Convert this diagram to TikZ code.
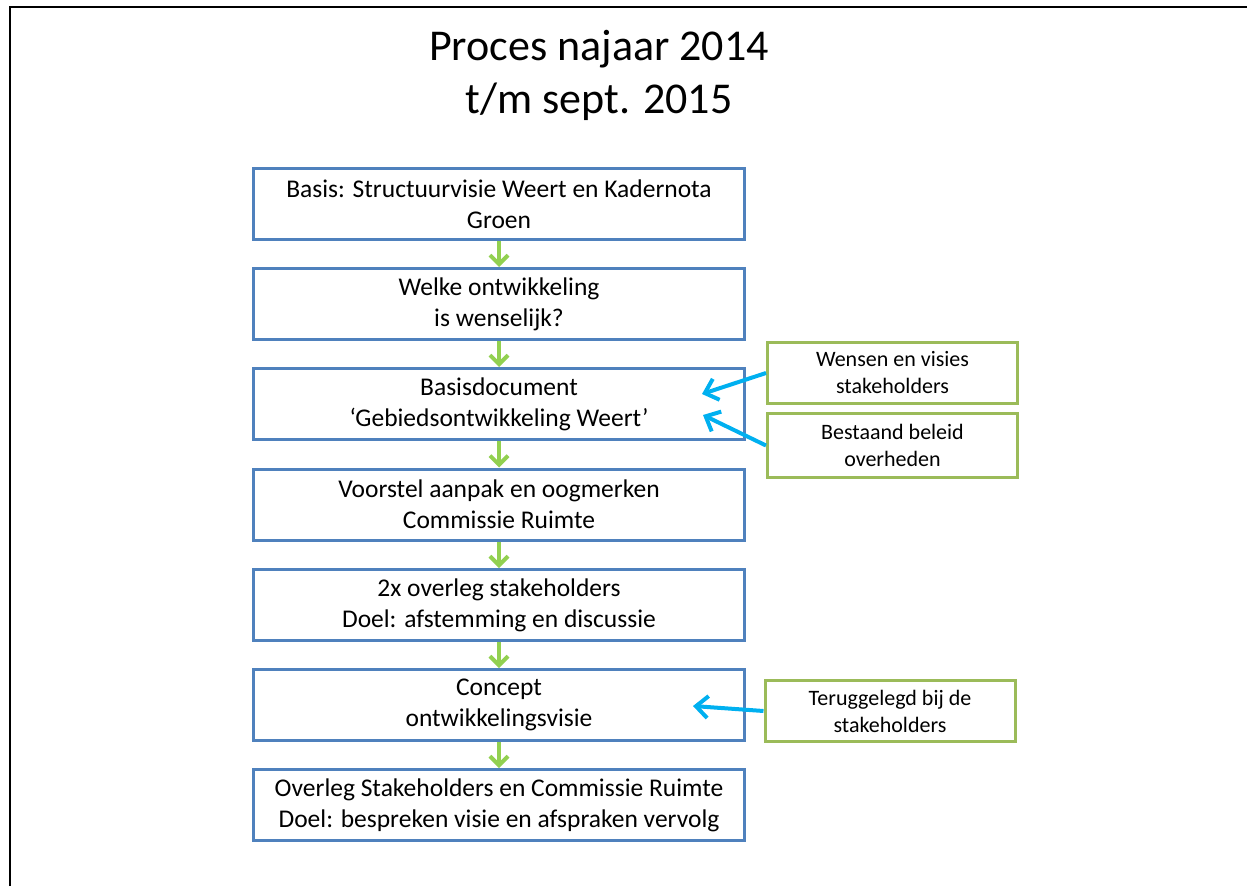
\documentclass[tikz,border=0pt]{standalone}
\usepackage{fontspec}
\setmainfont{Carlito}
\usetikzlibrary{arrows.meta}
\definecolor{boxblue}{RGB}{79,129,189}
\definecolor{boxgreen}{RGB}{155,187,89}
\definecolor{arrowgreen}{RGB}{146,208,80}
\definecolor{arrowblue}{RGB}{0,176,240}
\begin{document}
\begin{tikzpicture}[x=1pt,y=-1pt,
    stap/.style={draw=boxblue,line width=3pt,minimum width=491pt,minimum height=71pt,
      inner sep=0pt,align=center,font=\fontsize{25.5}{31}\selectfont},
    bron/.style={draw=boxgreen,line width=3pt,minimum width=250pt,minimum height=61pt,
      inner sep=0pt,align=center,font=\fontsize{22}{27}\selectfont},
    volgt/.style={draw=arrowgreen,line width=4pt,-{Straight Barb[length=9pt,width=18pt]}},
    invoer/.style={draw=arrowblue,line width=4pt,-{Straight Barb[length=12pt,width=22pt]}}]
      \useasboundingbox (0,0) rectangle (1247,886);
      \draw[line width=2.5pt] (10,886) -- (10,7) -- (1247,7);
      \node[align=center,inner sep=0pt,font=\fontsize{44}{53}\selectfont] (titel) at (599,75)
        {Proces najaar 2014\\t/m sept. 2015};
      \draw
        (499,204) node[stap] (1){Basis: Structuurvisie Weert en Kadernota\\Groen}
        (499,304) node[stap] (2){Welke ontwikkeling\\is wenselijk?}
        (499,404) node[stap] (3){Basisdocument\\‘Gebiedsontwikkeling Weert’}
        (499,504.5) node[stap] (4){Voorstel aanpak en oogmerken\\Commissie Ruimte}
        (499,605) node[stap] (5){2x overleg stakeholders\\Doel: afstemming en discussie}
        (499,705) node[stap] (6){Concept\\ontwikkelingsvisie}
        (499,805) node[stap] (7){Overleg Stakeholders en Commissie Ruimte\\Doel: bespreken visie en afspraken vervolg};
      \draw
        (892.5,373) node[bron] (a){Wensen en visies\\stakeholders}
        (892.5,445.5) node[bron,minimum height=64pt] (b){Bestaand beleid\\overheden}
        (890,711) node[bron] (c){Teruggelegd bij de\\stakeholders};
      \coordinate (pa) at (702,394);
      \coordinate (pb) at (703,415);
      \coordinate (pc) at (693,706);
      \begin{scope}[volgt]
        \draw (1) to (2);
        \draw (2) to (3);
        \draw (3) to (4);
        \draw (4) to (5);
        \draw (5) to (6);
        \draw (6) to (7);
      \end{scope}
      \begin{scope}[invoer]
        \draw (a.west) to (pa);
        \draw (b.west) to (pb);
        \draw (c.west) to (pc);
      \end{scope}
    \end{tikzpicture}
\end{document}
